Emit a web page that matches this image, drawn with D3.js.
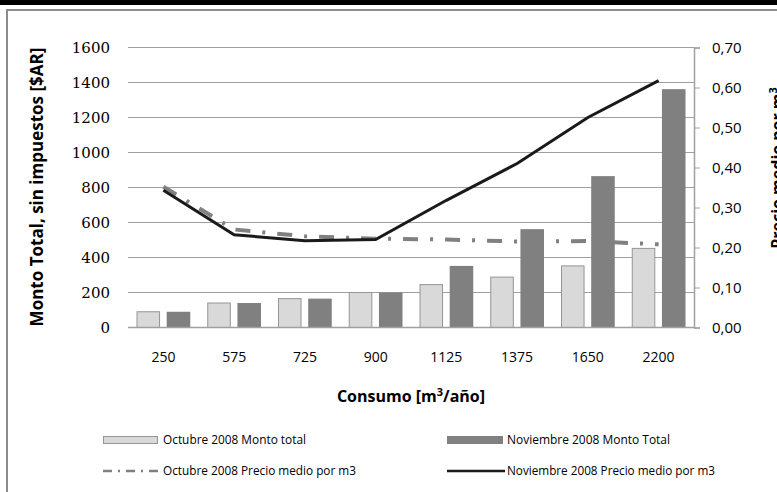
<!DOCTYPE html>
<html>
<head>
<meta charset="utf-8">
<script src="https://cdn.jsdelivr.net/npm/d3@7"></script>
<style>
  body { margin: 0; background: #fff; }
  svg { display: block; }
</style>
</head>
<body>
<div id="chart"></div>
<script>
// data
var consumo = ["250", "575", "725", "900", "1125", "1375", "1650", "2200"];
var montoOct = [90, 140, 165, 200, 245, 288, 352, 452];
var montoNov = [90, 140, 165, 200, 352, 562, 865, 1362];
var precioOct = [0.352, 0.245, 0.228, 0.222, 0.22, 0.215, 0.216, 0.208];
var precioNov = [0.343, 0.232, 0.217, 0.22, 0.318, 0.41, 0.525, 0.617];
var leftTicks = [0, 200, 400, 600, 800, 1000, 1200, 1400, 1600];
var rightTicks = [0, 0.1, 0.2, 0.3, 0.4, 0.5, 0.6, 0.7];

function chart() {
    var W = 777, H = 492;
    var plot = {left: 128, right: 694, top: 47.5, bottom: 327.5};

    var svg = d3.select("#chart").append("svg")
        .attr("width", W)
        .attr("height", H);

    // frame
    svg.append("rect").attr("x", 0).attr("y", 0).attr("width", W).attr("height", 5).attr("fill", "#000");
    svg.append("path")
        .attr("d", "M7,500 V10 H790")
        .attr("fill", "none").attr("stroke", "#8c8c8c").attr("stroke-width", 2);

    var x = d3.scaleBand().domain(consumo).range([plot.left, plot.right]);
    var xs = d3.scaleBand().domain(["oct", "nov"])
        .range([8.5, x.bandwidth() - 8.5]).paddingInner(0.22);
    var y = d3.scaleLinear().domain([0, 1600]).range([plot.bottom, plot.top]);
    var y2 = d3.scaleLinear().domain([0, 0.7]).range([plot.bottom, plot.top]);

    // gridlines
    svg.append("g").selectAll("line")
        .data(leftTicks.slice(1))
        .enter().append("line")
        .attr("x1", plot.left).attr("x2", plot.right)
        .attr("y1", function(d) { return y(d); })
        .attr("y2", function(d) { return y(d); })
        .attr("stroke", "#a0a0a0").attr("stroke-width", 1);

    // left axis labels
    var yAxis = d3.axisLeft(y).tickValues(leftTicks).tickSize(0).tickPadding(18)
        .tickFormat(d3.format("d"));
    var gy = svg.append("g")
        .attr("transform", "translate(" + plot.left + ",0)")
        .call(yAxis);
    gy.select(".domain").remove();
    gy.selectAll("text")
        .attr("font-family", "'DejaVu Serif', serif")
        .attr("font-size", 15)
        .attr("fill", "#000");

    // bars
    var groups = svg.append("g").selectAll("g")
        .data(consumo)
        .enter().append("g")
        .attr("transform", function(d) { return "translate(" + x(d) + ",0)"; });
    groups.append("rect")
        .attr("x", xs("oct") + 0.5)
        .attr("y", function(d, i) { return y(montoOct[i]); })
        .attr("width", xs.bandwidth() - 1)
        .attr("height", function(d, i) { return y(0) - y(montoOct[i]); })
        .attr("fill", "#d9d9d9").attr("stroke", "#959595").attr("stroke-width", 1);
    groups.append("rect")
        .attr("x", xs("nov"))
        .attr("y", function(d, i) { return y(montoNov[i]); })
        .attr("width", xs.bandwidth())
        .attr("height", function(d, i) { return y(0) - y(montoNov[i]); })
        .attr("fill", "#808080");

    // x baseline
    svg.append("line")
        .attr("x1", plot.left).attr("x2", plot.right)
        .attr("y1", y(0)).attr("y2", y(0))
        .attr("stroke", "#a0a0a0").attr("stroke-width", 1.5);

    // x axis labels
    var xAxis = d3.axisBottom(x).tickSize(0).tickPadding(25);
    var gx = svg.append("g")
        .attr("transform", "translate(0," + plot.bottom + ")")
        .call(xAxis);
    gx.select(".domain").remove();
    gx.selectAll("text")
        .attr("font-family", "'Open Sans', sans-serif")
        .attr("font-size", 14)
        .attr("fill", "#000");

    // right axis
    var yAxis2 = d3.axisRight(y2).tickValues(rightTicks).tickSize(6).tickPadding(12)
        .tickFormat(function(d) { return d3.format(".2f")(d).replace(".", ","); });
    var gr = svg.append("g")
        .attr("transform", "translate(" + plot.right + ",0)")
        .call(yAxis2);
    gr.select(".domain").attr("stroke", "#a0a0a0").attr("stroke-width", 1.5);
    gr.selectAll("line").attr("stroke", "#a0a0a0");
    gr.selectAll("text")
        .attr("font-family", "'Open Sans', sans-serif")
        .attr("font-size", 15)
        .attr("fill", "#000");

    // price lines
    var line = d3.line()
        .x(function(d, i) { return x(consumo[i]) + x.bandwidth() / 2; })
        .y(function(d) { return y2(d); });
    svg.append("path")
        .datum(precioOct)
        .attr("d", line)
        .attr("fill", "none")
        .attr("stroke", "#808080")
        .attr("stroke-width", 4)
        .attr("stroke-dasharray", "15,12,3,12");
    svg.append("path")
        .datum(precioNov)
        .attr("d", line)
        .attr("fill", "none")
        .attr("stroke", "#1a1a1a")
        .attr("stroke-width", 3);

    // axis titles
    svg.append("text")
        .attr("transform", "translate(43,187) rotate(-90)")
        .attr("text-anchor", "middle")
        .attr("font-family", "'Open Sans', sans-serif")
        .attr("font-weight", "bold")
        .attr("font-size", 17)
        .text("Monto Total, sin impuestos [$AR]");
    svg.append("text")
        .attr("transform", "translate(783,168) rotate(-90)")
        .attr("text-anchor", "middle")
        .attr("font-family", "'Open Sans', sans-serif")
        .attr("font-weight", "bold")
        .attr("font-size", 16)
        .html("Precio medio por m<tspan dy='-6' font-size='11'>3</tspan>");
    svg.append("text")
        .attr("x", 411).attr("y", 402)
        .attr("text-anchor", "middle")
        .attr("font-family", "'Open Sans', sans-serif")
        .attr("font-weight", "bold")
        .attr("font-size", 16)
        .html("Consumo [m<tspan dy='-6' font-size='11'>3</tspan><tspan dy='6'>/año]</tspan>");

    // legend
    var legend = [
        {label: "Octubre 2008 Monto total", kind: "light", x: 103, y: 440, w: 143},
        {label: "Noviembre 2008 Monto Total", kind: "dark", x: 447, y: 440, w: 163},
        {label: "Octubre 2008 Precio medio por m3", kind: "dash", x: 103, y: 471, w: 193},
        {label: "Noviembre 2008 Precio medio por m3", kind: "solid", x: 447, y: 471, w: 208}
    ];
    var lg = svg.append("g").selectAll("g")
        .data(legend)
        .enter().append("g")
        .attr("transform", function(d) { return "translate(" + d.x + "," + d.y + ")"; });
    lg.filter(function(d) { return d.kind == "light"; }).append("rect")
        .attr("x", 0.5).attr("y", -3.5).attr("width", 54).attr("height", 7)
        .attr("fill", "#d9d9d9").attr("stroke", "#959595");
    lg.filter(function(d) { return d.kind == "dark"; }).append("rect")
        .attr("x", 0).attr("y", -4).attr("width", 56).attr("height", 8)
        .attr("fill", "#808080");
    lg.filter(function(d) { return d.kind == "dash"; }).append("line")
        .attr("x1", 0).attr("x2", 55).attr("y1", 0).attr("y2", 0)
        .attr("stroke", "#808080").attr("stroke-width", 2.5)
        .attr("stroke-dasharray", "9,6,2,6");
    lg.filter(function(d) { return d.kind == "solid"; }).append("line")
        .attr("x1", 0).attr("x2", 58).attr("y1", 0).attr("y2", 0)
        .attr("stroke", "#1a1a1a").attr("stroke-width", 2.5);
    lg.append("text")
        .attr("x", 60)
        .attr("y", 4)
        .attr("font-family", "'Open Sans', sans-serif")
        .attr("font-size", 12)
        .attr("textLength", function(d) { return d.w; })
        .attr("lengthAdjust", "spacingAndGlyphs")
        .text(function(d) { return d.label; });
}
chart();
</script>
</body>
</html>
